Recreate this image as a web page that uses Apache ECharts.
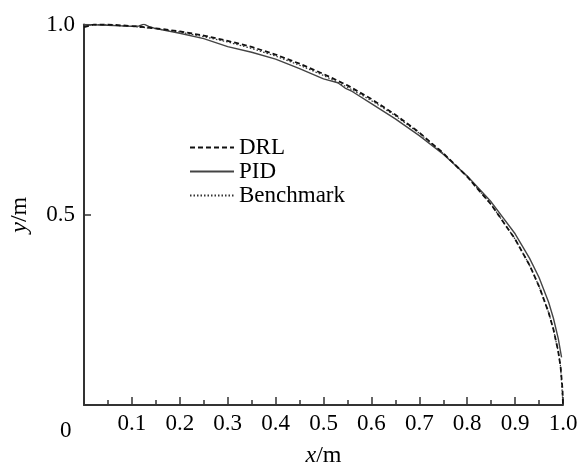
<!DOCTYPE html>
<html>
<head>
<meta charset="utf-8">
<script src="https://cdn.jsdelivr.net/npm/echarts@6.0.0/dist/echarts.min.js"></script>
<style>
  html, body { margin: 0; padding: 0; background: #fff; }
  #main { width: 585px; height: 473px; }
</style>
</head>
<body>
<div id="main"></div>
<script>
// values
var benchX = [0, 0.05, 0.1, 0.15, 0.2, 0.25, 0.3, 0.35, 0.4, 0.45, 0.5, 0.55, 0.6, 0.65, 0.7, 0.75, 0.8, 0.85, 0.9, 0.93, 0.95, 0.97, 0.98, 0.99, 0.995, 1.0];
var benchY = [1.0, 0.999, 0.995, 0.989, 0.980, 0.968, 0.954, 0.937, 0.917, 0.893, 0.866, 0.835, 0.800, 0.760, 0.714, 0.661, 0.600, 0.527, 0.436, 0.368, 0.312, 0.243, 0.199, 0.141, 0.100, 0.0];

var drlX = [0, 0.02, 0.05, 0.1, 0.15, 0.2, 0.25, 0.3, 0.35, 0.4, 0.45, 0.5, 0.55, 0.6, 0.65, 0.7, 0.75, 0.8, 0.85, 0.9, 0.93, 0.95, 0.97, 0.98, 0.99, 0.995, 0.999, 1.0];
var drlY = [0.993, 1.0, 1.0, 0.996, 0.990, 0.982, 0.971, 0.957, 0.941, 0.921, 0.897, 0.870, 0.840, 0.804, 0.763, 0.716, 0.662, 0.600, 0.527, 0.436, 0.368, 0.312, 0.243, 0.199, 0.141, 0.100, 0.04, 0.0];

var pidX = [0, 0.05, 0.1, 0.115, 0.125, 0.135, 0.15, 0.2, 0.25, 0.3, 0.35, 0.4, 0.45, 0.5, 0.53, 0.545, 0.56, 0.6, 0.65, 0.7, 0.75, 0.8, 0.85, 0.9, 0.93, 0.95, 0.97, 0.98, 0.99, 0.997];
var pidY = [1.0, 0.998, 0.995, 0.996, 1.001, 0.995, 0.989, 0.977, 0.963, 0.942, 0.927, 0.909, 0.884, 0.857, 0.847, 0.833, 0.824, 0.792, 0.752, 0.708, 0.659, 0.602, 0.534, 0.450, 0.386, 0.335, 0.270, 0.228, 0.175, 0.125];

var seriesNames = ['DRL', 'PID', 'Benchmark'];

function pairs(xs, ys) {
	var out = [];
	for (var i = 0; i < xs.length; i++) {
		out.push([xs[i], ys[i]]);
	}
	return out;
}

var serif = '"Liberation Serif", "DejaVu Serif", serif';
var chart = echarts.init(document.getElementById('main'));

var option = {
	animation: false,
	backgroundColor: '#fff',
	grid: { left: 81, right: 22, top: 24.5, bottom: 61.5 },
	legend: {
		orient: 'vertical',
		left: 184,
		top: 131,
		itemWidth: 44,
		itemHeight: 12,
		itemGap: 1,
		data: seriesNames,
		itemStyle: { opacity: 0 },
		textStyle: { fontFamily: serif, fontSize: 23, color: '#000' }
	},
	xAxis: {
		type: 'value',
		min: 0,
		max: 1,
		interval: 0.1,
		name: '{i|x}/m',
		nameLocation: 'middle',
		nameGap: 39,
		nameTextStyle: {
			fontFamily: serif, fontSize: 24, color: '#000',
			rich: { i: { fontFamily: serif, fontSize: 24, fontStyle: 'italic', color: '#000' } }
		},
		axisLine: { lineStyle: { color: '#333', width: 2 } },
		axisTick: { inside: true, length: 8, lineStyle: { color: '#333', width: 1.5 } },
		minorTick: { show: true, splitNumber: 2, length: 5, lineStyle: { color: '#333', width: 1.5 } },
		splitLine: { show: false },
		axisLabel: {
			margin: 7,
			fontFamily: serif,
			fontSize: 23,
			color: '#000',
			formatter: function (v) { return v === 0 ? '' : v.toFixed(1); }
		}
	},
	yAxis: {
		type: 'value',
		min: 0,
		max: 1,
		interval: 0.5,
		name: '{i|y}/m',
		nameLocation: 'middle',
		nameGap: 52,
		nameTextStyle: {
			fontFamily: serif, fontSize: 24, color: '#000',
			rich: { i: { fontFamily: serif, fontSize: 24, fontStyle: 'italic', color: '#000' } }
		},
		axisLine: { show: true, lineStyle: { color: '#333', width: 2 } },
		axisTick: { show: true, inside: true, length: 7, lineStyle: { color: '#333', width: 1.5 } },
		splitLine: { show: false },
		axisLabel: {
			margin: 9,
			fontFamily: serif,
			fontSize: 23,
			color: '#000',
			formatter: function (v) { return v === 0 ? '' : v.toFixed(1); }
		}
	},
	graphic: [
		{
			type: 'text',
			left: 60,
			top: 419,
			style: { text: '0', font: '23px ' + serif, fill: '#000' }
		}
	],
	series: [
		{
			name: 'DRL',
			type: 'line',
			symbol: 'none',
			data: pairs(drlX, drlY),
			lineStyle: { color: '#111', width: 1.8, type: [5, 3] },
			itemStyle: { color: '#111' },
			z: 4
		},
		{
			name: 'PID',
			type: 'line',
			symbol: 'none',
			data: pairs(pidX, pidY),
			lineStyle: { color: '#444', width: 1.4, type: 'solid' },
			itemStyle: { color: '#444' },
			z: 3
		},
		{
			name: 'Benchmark',
			type: 'line',
			symbol: 'none',
			data: pairs(benchX, benchY),
			lineStyle: { color: '#333', width: 1.2, type: [1.5, 2] },
			itemStyle: { color: '#333' },
			z: 2
		}
	]
};
chart.setOption(option);
</script>
</body>
</html>
